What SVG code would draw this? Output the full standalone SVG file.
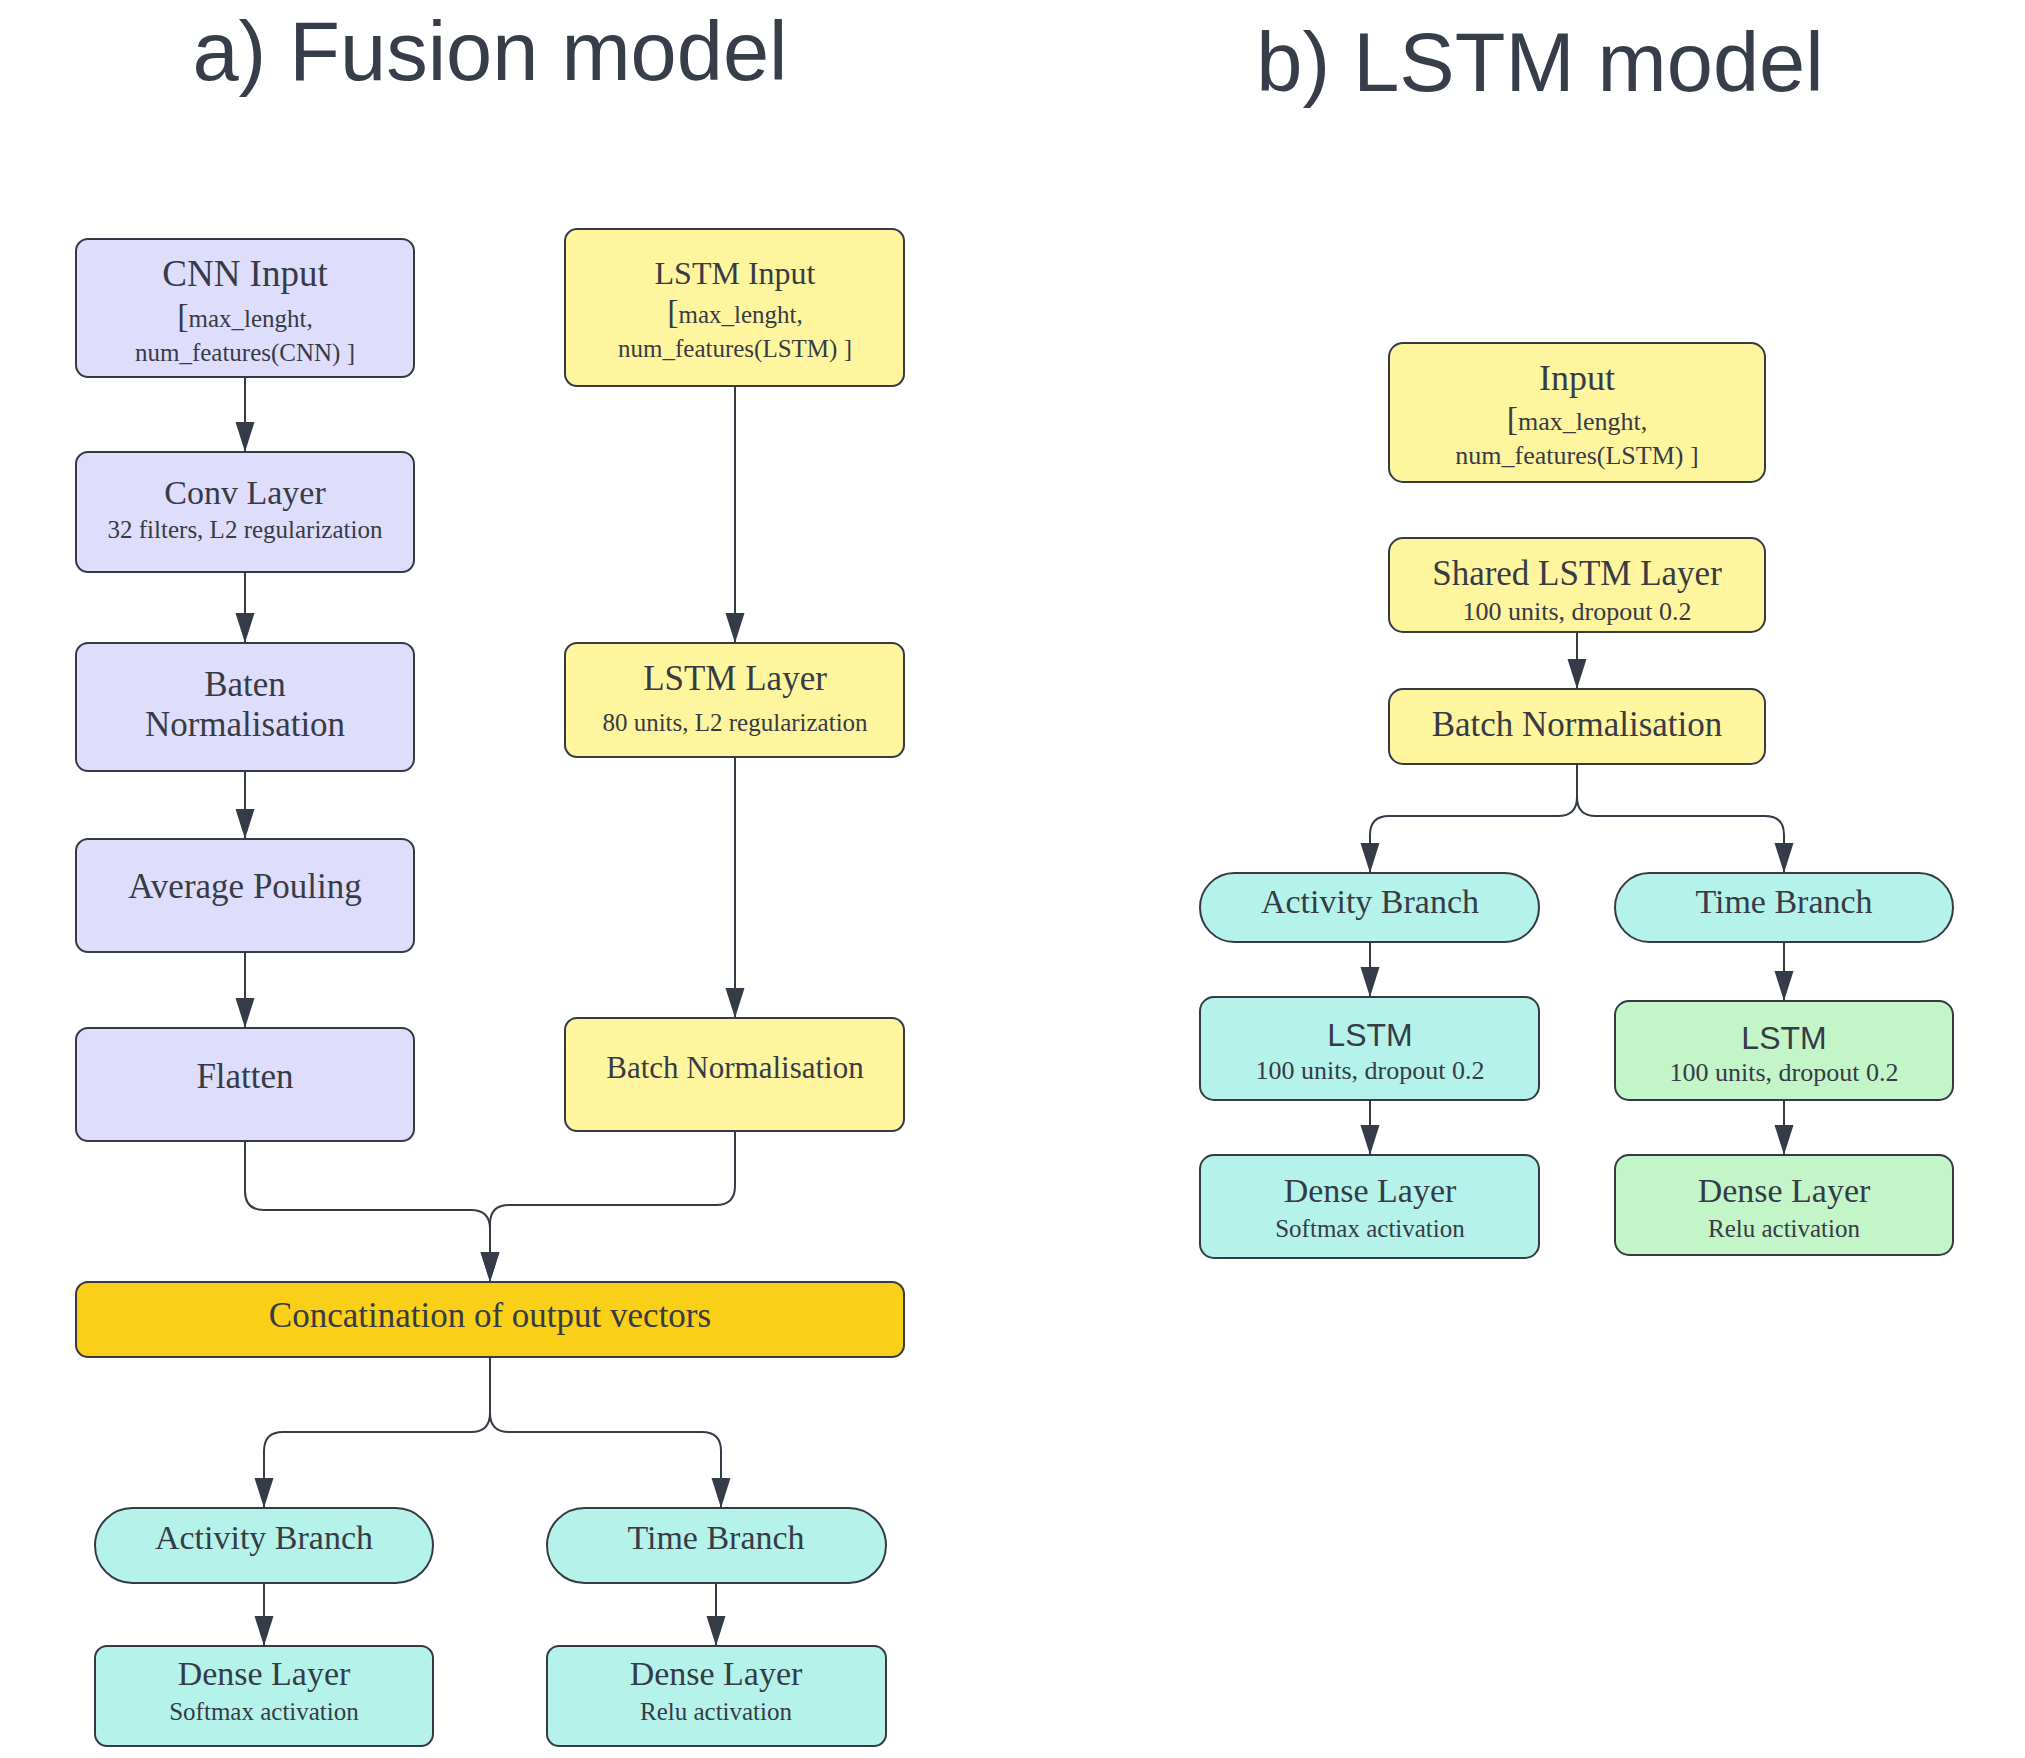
<svg xmlns="http://www.w3.org/2000/svg" width="2025" height="1758" viewBox="0 0 2025 1758">
<style>
.title{font-family:"Liberation Sans",Arial,sans-serif;font-size:83px;fill:#373d49;text-anchor:middle}
.n{stroke:#353a45;stroke-width:2}
.lav{fill:#dedefc}.yel{fill:#fff59f}.cyan{fill:#b5f3ea}.grn{fill:#c3f5c8}.gold{fill:#facf17}
.t{font-family:"Liberation Serif","Times New Roman",serif;fill:#363b46;text-anchor:middle;font-size:34px}
.s{font-family:"Liberation Serif","Times New Roman",serif;fill:#363b46;text-anchor:middle;font-size:25px}
.sans{font-family:"Liberation Sans",Arial,sans-serif;fill:#363b46;text-anchor:middle;font-size:32px}
.c{fill:none;stroke:#363c47;stroke-width:2}
</style>
<defs>
<marker id="ah" markerUnits="userSpaceOnUse" markerWidth="30" markerHeight="20" refX="30" refY="10" orient="auto">
<path d="M0,0.5 L30,10 L0,19.5 z" fill="#363c47"/>
</marker>
</defs>
<rect width="2025" height="1758" fill="#ffffff"/>
<text class="title" x="490" y="80">a) Fusion model</text>
<text class="title" x="1540" y="91">b) LSTM model</text>

<g id="connectors">
<path class="c" d="M245,377 L245,452" marker-end="url(#ah)"/>
<path class="c" d="M245,572 L245,643" marker-end="url(#ah)"/>
<path class="c" d="M245,771 L245,839" marker-end="url(#ah)"/>
<path class="c" d="M245,952 L245,1028" marker-end="url(#ah)"/>
<path class="c" d="M735,386 L735,643" marker-end="url(#ah)"/>
<path class="c" d="M735,757 L735,1018" marker-end="url(#ah)"/>
<path class="c" d="M245,1141 L245,1191 Q245,1210 264,1210 L471,1210 Q490,1210 490,1229 L490,1282" marker-end="url(#ah)"/>
<path class="c" d="M735,1131 L735,1186 Q735,1205 716,1205 L509,1205 Q490,1205 490,1224 L490,1282" marker-end="url(#ah)"/>
<path class="c" d="M490,1357 L490,1413 Q490,1432 471,1432 L283,1432 Q264,1432 264,1451 L264,1508" marker-end="url(#ah)"/>
<path class="c" d="M490,1357 L490,1413 Q490,1432 509,1432 L702,1432 Q721,1432 721,1451 L721,1508" marker-end="url(#ah)"/>
<path class="c" d="M264,1583 L264,1646" marker-end="url(#ah)"/>
<path class="c" d="M716,1583 L716,1646" marker-end="url(#ah)"/>
<path class="c" d="M1577,632 L1577,689" marker-end="url(#ah)"/>
<path class="c" d="M1577,764 L1577,797 Q1577,816 1558,816 L1389,816 Q1370,816 1370,835 L1370,873" marker-end="url(#ah)"/>
<path class="c" d="M1577,764 L1577,797 Q1577,816 1596,816 L1765,816 Q1784,816 1784,835 L1784,873" marker-end="url(#ah)"/>
<path class="c" d="M1370,942 L1370,997" marker-end="url(#ah)"/>
<path class="c" d="M1370,1100 L1370,1155" marker-end="url(#ah)"/>
<path class="c" d="M1784,942 L1784,1001" marker-end="url(#ah)"/>
<path class="c" d="M1784,1100 L1784,1155" marker-end="url(#ah)"/>
</g>

<g id="cnn-input">
<rect class="n lav" x="76" y="239" width="338" height="138" rx="12"/>
<text class="t" x="245" y="286" style="font-size:37px">CNN Input</text>
<text class="s" x="245" y="327"><tspan style="font-size:34px">[</tspan>max_lenght,</text>
<text class="s" x="245" y="361">num_features(CNN) ]</text>
</g>
<g id="conv-layer">
<rect class="n lav" x="76" y="452" width="338" height="120" rx="12"/>
<text class="t" x="245" y="504">Conv Layer</text>
<text class="s" x="245" y="538">32 filters, L2 regularization</text>
</g>
<g id="baten-norm">
<rect class="n lav" x="76" y="643" width="338" height="128" rx="12"/>
<text class="t" x="245" y="696" style="font-size:35px">Baten</text>
<text class="t" x="245" y="736" style="font-size:35px">Normalisation</text>
</g>
<g id="avg-pool">
<rect class="n lav" x="76" y="839" width="338" height="113" rx="12"/>
<text class="t" x="245" y="898" style="font-size:35px">Average Pouling</text>
</g>
<g id="flatten">
<rect class="n lav" x="76" y="1028" width="338" height="113" rx="12"/>
<text class="t" x="245" y="1088" style="font-size:35px">Flatten</text>
</g>
<g id="lstm-input">
<rect class="n yel" x="565" y="229" width="339" height="157" rx="12"/>
<text class="t" x="735" y="284" style="font-size:32px">LSTM Input</text>
<text class="s" x="735" y="323"><tspan style="font-size:34px">[</tspan>max_lenght,</text>
<text class="s" x="735" y="357">num_features(LSTM) ]</text>
</g>
<g id="lstm-layer">
<rect class="n yel" x="565" y="643" width="339" height="114" rx="12"/>
<text class="t" x="735" y="690" style="font-size:35px">LSTM Layer</text>
<text class="s" x="735" y="731">80 units, L2 regularization</text>
</g>
<g id="batch-norm-a">
<rect class="n yel" x="565" y="1018" width="339" height="113" rx="12"/>
<text class="t" x="735" y="1078" style="font-size:31px">Batch Normalisation</text>
</g>
<g id="concat">
<rect class="n gold" x="76" y="1282" width="828" height="75" rx="12"/>
<text class="t" x="490" y="1327" style="font-size:35px">Concatination of output vectors</text>
</g>
<g id="activity-branch-a">
<rect class="n cyan" x="95" y="1508" width="338" height="75" rx="37.5"/>
<text class="t" x="264" y="1549">Activity Branch</text>
</g>
<g id="time-branch-a">
<rect class="n cyan" x="547" y="1508" width="339" height="75" rx="37.5"/>
<text class="t" x="716" y="1549">Time Branch</text>
</g>
<g id="dense-softmax-a">
<rect class="n cyan" x="95" y="1646" width="338" height="100" rx="12"/>
<text class="t" x="264" y="1685">Dense Layer</text>
<text class="s" x="264" y="1720">Softmax activation</text>
</g>
<g id="dense-relu-a">
<rect class="n cyan" x="547" y="1646" width="339" height="100" rx="12"/>
<text class="t" x="716" y="1685">Dense Layer</text>
<text class="s" x="716" y="1720">Relu activation</text>
</g>

<g id="input-b">
<rect class="n yel" x="1389" y="343" width="376" height="139" rx="14"/>
<text class="t" x="1577" y="390" style="font-size:36px">Input</text>
<text class="s" x="1577" y="430" style="font-size:26px"><tspan style="font-size:34px">[</tspan>max_lenght,</text>
<text class="s" x="1577" y="464" style="font-size:26px">num_features(LSTM) ]</text>
</g>
<g id="shared-lstm-b">
<rect class="n yel" x="1389" y="538" width="376" height="94" rx="14"/>
<text class="t" x="1577" y="585" style="font-size:35px">Shared LSTM Layer</text>
<text class="s" x="1577" y="620" style="font-size:26px">100 units, dropout 0.2</text>
</g>
<g id="batch-norm-b">
<rect class="n yel" x="1389" y="689" width="376" height="75" rx="14"/>
<text class="t" x="1577" y="736" style="font-size:35px">Batch Normalisation</text>
</g>
<g id="activity-branch-b">
<rect class="n cyan" x="1200" y="873" width="339" height="69" rx="34.5"/>
<text class="t" x="1370" y="913">Activity Branch</text>
</g>
<g id="time-branch-b">
<rect class="n cyan" x="1615" y="873" width="338" height="69" rx="34.5"/>
<text class="t" x="1784" y="913">Time Branch</text>
</g>
<g id="lstm-activity-b">
<rect class="n cyan" x="1200" y="997" width="339" height="103" rx="14"/>
<text class="sans" x="1370" y="1046">LSTM</text>
<text class="s" x="1370" y="1079" style="font-size:26px">100 units, dropout 0.2</text>
</g>
<g id="lstm-time-b">
<rect class="n grn" x="1615" y="1001" width="338" height="99" rx="14"/>
<text class="sans" x="1784" y="1049">LSTM</text>
<text class="s" x="1784" y="1081" style="font-size:26px">100 units, dropout 0.2</text>
</g>
<g id="dense-softmax-b">
<rect class="n cyan" x="1200" y="1155" width="339" height="103" rx="14"/>
<text class="t" x="1370" y="1202">Dense Layer</text>
<text class="s" x="1370" y="1237">Softmax activation</text>
</g>
<g id="dense-relu-b">
<rect class="n grn" x="1615" y="1155" width="338" height="100" rx="14"/>
<text class="t" x="1784" y="1202">Dense Layer</text>
<text class="s" x="1784" y="1237">Relu activation</text>
</g>
</svg>
